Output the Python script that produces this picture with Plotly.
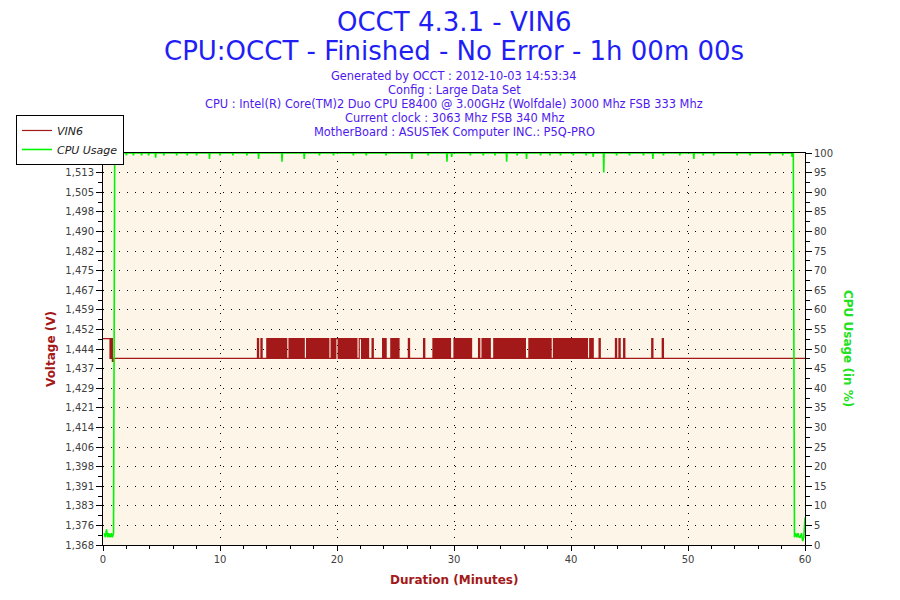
import plotly.graph_objects as go

# VIN6 voltage, one code every 0.1 minute (0 = 1.4392 V, 1 = 1.4404 V, 2 = 1.448 V)
VIN6_LEVELS = {"0": 1.4392, "1": 1.4404, "2": 1.448}
VIN6_CODES = [
    "2222221201 1111111111 1111111111 1111111111 1111111111",
    "1111111111 1111111111 1111111111 1111111111 1111111111",
    "1111111111 1111111111 1111111111 1121121111 2121212121",
    "2121212112 1212121212 1211212121 2121212121 2121121212",
    "2121212121 2121212112 2121212111 2111111112 1211112121",
    "2121111111 1211111111 1111211111 1121212121 2121212111",
    "2121212121 2121211111 1211212121 2111212121 2121212121",
    "2121212121 2111212121 2121212121 2121121212 1212121212",
    "1212121212 1212112121 1111211111 1111111121 1211121111",
    "1111111111 1111111112 1111111121 1111111111 1111111111",
    "1111111111 1111111111 1111111111 1111111111 1111111111",
    "1111111111 1111111111 1111111111 1111111111 1111111111 1",
]
VIN6_STEP = 0.1

# CPU usage (%)
CPU_START_TIME = [0.1, 0.2, 0.3, 0.4, 0.5, 0.6, 0.7, 0.8, 0.9, 1.0]
CPU_START_VALUE = [3, 2, 4, 2, 3, 2, 3, 2, 3, 100]
CPU_DIP_TIME = [1.6, 2.0, 2.6, 3.3, 3.9, 4.5, 5.2, 6.3, 7.2, 8.0, 9.1, 10.0, 11.1,
                12.3, 13.3, 15.3, 17.2, 18.5, 19.7, 21.4, 22.5, 24.2, 26.4, 27.8,
                29.4, 29.8, 31.4, 32.5, 33.5, 34.5, 35.4, 36.2, 37.4, 38.2, 39.1,
                40.2, 41.3, 41.9, 42.8, 43.9, 45.0, 46.2, 47.0, 47.9, 49.3, 50.5,
                51.3, 52.2, 54.2, 55.3, 57.0, 58.1, 58.9]
CPU_DIP_VALUE = [99.4, 99.4, 99.4, 99.4, 99.4, 98.8, 99.4, 99.4, 99.4, 99.4, 98.5,
                 99.4, 99.4, 99.4, 98.5, 97.8, 98.5, 99.4, 99.4, 99.4, 99.4, 99.4,
                 98.5, 99.4, 97.8, 99.0, 99.4, 99.4, 99.4, 97.8, 99.4, 98.5, 99.4,
                 99.4, 99.4, 99.4, 99.4, 99.0, 95.0, 99.4, 99.4, 99.4, 98.5, 99.4,
                 99.4, 98.5, 99.4, 99.4, 99.4, 99.4, 99.4, 99.4, 99.0]
CPU_END_TIME = [59.0, 59.1, 59.2, 59.3, 59.4, 59.5, 59.6, 59.7, 59.8, 59.9, 60.0]
CPU_END_VALUE = [100, 2, 3, 2, 3, 2, 2, 3, 1, 2, 7]

VOLT_TICK_LABELS = ["1,368", "1,376", "1,383", "1,391", "1,398", "1,406", "1,414",
                    "1,421", "1,429", "1,437", "1,444", "1,452", "1,459", "1,467",
                    "1,475", "1,482", "1,490", "1,498", "1,505", "1,513", "1,520"]
VOLT_MIN, VOLT_MAX = 1.368, 1.520
X_TICKS = [0, 10, 20, 30, 40, 50, 60]

TITLE_LINES = ["OCCT 4.3.1 - VIN6", "CPU:OCCT - Finished - No Error - 1h 00m 00s"]
INFO_LINES = [
    "Generated by OCCT : 2012-10-03 14:53:34",
    "Config : Large Data Set",
    "CPU : Intel(R) Core(TM)2 Duo CPU E8400 @ 3.00GHz (Wolfdale) 3000 Mhz FSB 333 Mhz",
    "Current clock : 3063 Mhz FSB 340 Mhz",
    "MotherBoard : ASUSTeK Computer INC.: P5Q-PRO",
]

RED = "#A31818"
GREEN = "#00F500"
FONT = "DejaVu Sans"

codes = "".join(VIN6_CODES).replace(" ", "")
vin6_time = [i * VIN6_STEP for i in range(len(codes))]
vin6_value = [VIN6_LEVELS[c] for c in codes]

cpu_time = list(CPU_START_TIME)
cpu_value = list(CPU_START_VALUE)
for t, v in zip(CPU_DIP_TIME, CPU_DIP_VALUE):
    cpu_time += [t - 0.03, t, t + 0.03]
    cpu_value += [100, v, 100]
cpu_time += CPU_END_TIME
cpu_value += CPU_END_VALUE

fig = go.Figure()
fig.add_trace(go.Scatter(x=vin6_time, y=vin6_value, name="VIN6", mode="lines",
                         line=dict(color=RED, width=1.2, shape="hv", simplify=False)))
fig.add_trace(go.Scatter(x=cpu_time, y=cpu_value, name="CPU Usage", mode="lines",
                         yaxis="y2", line=dict(color=GREEN, width=1.6, simplify=False)))

step = (VOLT_MAX - VOLT_MIN) / (len(VOLT_TICK_LABELS) - 1)
volt_ticks = [VOLT_MIN + i * step for i in range(len(VOLT_TICK_LABELS))]
volt_minor = [v + step / 2 for v in volt_ticks[:-1]]

tickfont = dict(family=FONT, size=10, color="#404040")
dotted = dict(showgrid=True, gridcolor="black", griddash="1px,7px", gridwidth=1)

# the page body has an 8px margin, so the figure margins are shifted by 8px
fig.update_layout(
    width=900, height=600,
    margin=dict(l=95, r=103, t=145, b=63, autoexpand=False),
    paper_bgcolor="white", plot_bgcolor="#FDF6E8",
    showlegend=True,
    legend=dict(x=-0.124, y=1.097, xanchor="left", yanchor="top",
                bgcolor="white", bordercolor="black", borderwidth=1,
                font=dict(family=FONT, size=11, color="#222222", style="italic"),
                tracegroupgap=0, itemwidth=30),
    xaxis=dict(range=[0, 60], tickvals=X_TICKS, automargin=False,
               ticks="outside", ticklen=5, tickcolor="black",
               minor=dict(dtick=2, ticks="outside", ticklen=3, tickcolor="black"),
               showline=True, linecolor="black", mirror=True,
               zeroline=False, tickfont=tickfont, **dotted),
    xaxis2=dict(range=[0, 60], overlaying="x", tickvals=X_TICKS, automargin=False,
                ticks="inside", ticklen=5, tickcolor="black",
                minor=dict(dtick=2, ticks="inside", ticklen=3, tickcolor="black"),
                showticklabels=False, showgrid=False, zeroline=False),
    yaxis=dict(range=[VOLT_MIN, VOLT_MAX], tickvals=volt_ticks, automargin=False,
               ticktext=VOLT_TICK_LABELS, ticks="outside", ticklen=6,
               tickcolor="black",
               minor=dict(tickvals=volt_minor, ticks="outside", ticklen=4,
                          tickcolor="black"),
               showline=True, linecolor="black",
               zeroline=False, tickfont=tickfont, **dotted),
    yaxis3=dict(range=[VOLT_MIN, VOLT_MAX], overlaying="y", side="left",
                tickvals=volt_ticks, ticks="inside", ticklen=6, tickcolor="black",
                minor=dict(tickvals=volt_minor, ticks="inside", ticklen=3,
                           tickcolor="black"), automargin=False,
                showticklabels=False, showgrid=False, zeroline=False),
    yaxis2=dict(range=[0, 100], overlaying="y", side="right", dtick=5,
                ticks="outside", ticklen=6, tickcolor="black", automargin=False,
                minor=dict(dtick=2.5, ticks="outside", ticklen=4, tickcolor="black"),
                showline=True, linecolor="black", showgrid=False,
                zeroline=False, tickfont=tickfont),
    yaxis4=dict(range=[0, 100], overlaying="y", side="right", dtick=5,
                ticks="inside", ticklen=6, tickcolor="black", automargin=False,
                minor=dict(dtick=2.5, ticks="inside", ticklen=3, tickcolor="black"),
                showticklabels=False, showgrid=False, zeroline=False),
)

# header text, positions in paper units of the plot area (153..545 px)
def py(px):
    return (545 - px) / 392


def px_x(px):
    return (px - 103) / 702


for text, ypx in zip(TITLE_LINES, [22, 51]):
    fig.add_annotation(text=text, x=0.5, y=py(ypx), xref="paper", yref="paper",
                       xanchor="center", yanchor="middle", showarrow=False,
                       font=dict(family=FONT, size=26, color="#1E1EF5"))
for text, ypx in zip(INFO_LINES, [76, 90, 104, 118, 132]):
    fig.add_annotation(text=text, x=0.5, y=py(ypx), xref="paper", yref="paper",
                       xanchor="center", yanchor="middle", showarrow=False,
                       font=dict(family=FONT, size=11.4, color="#4E18F0"))

fig.add_annotation(text="<b>Voltage (V)</b>", x=px_x(51), y=py(349),
                   xref="paper", yref="paper", xanchor="center", yanchor="middle",
                   showarrow=False, textangle=-90,
                   font=dict(family=FONT, size=12, color=RED))
fig.add_annotation(text="<b>CPU Usage (in %)</b>", x=px_x(848), y=py(348),
                   xref="paper", yref="paper", xanchor="center", yanchor="middle",
                   showarrow=False, textangle=90,
                   font=dict(family=FONT, size=12, color="#22E022"))
fig.add_annotation(text="<b>Duration (Minutes)</b>", x=px_x(454), y=py(580),
                   xref="paper", yref="paper", xanchor="center", yanchor="middle",
                   showarrow=False, font=dict(family=FONT, size=12, color=RED))

fig.write_html("out.html")
